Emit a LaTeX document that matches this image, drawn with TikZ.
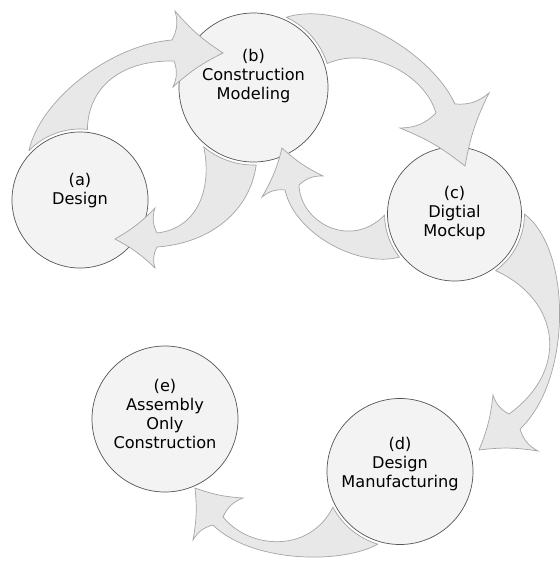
\documentclass[tikz,border=0pt]{standalone}
\usepackage{fontspec}
\setmainfont{DejaVu Sans}
\usepackage{tikz}
\usetikzlibrary{calc}
\definecolor{stagefill}{RGB}{243,243,243}
\definecolor{stageline}{RGB}{85,85,85}
\definecolor{flowfill}{RGB}{232,232,232}
\definecolor{flowline}{RGB}{165,165,165}
\newcommand{\stagetext}[2]{\raisebox{#1}[0pt][0pt]{\begin{tabular}{@{}c@{}}#2\end{tabular}}}

\begin{document}
\begin{tikzpicture}[
    x=0.03cm, y=0.03cm,
    stage/.style={circle, draw=stageline, fill=stagefill, line width=0.6pt,
                  inner sep=0pt, outer sep=0.09cm,
                  font=\fontsize{13.8}{16.2}\selectfont},
    flow/.style={draw=flowline, fill=flowfill, line width=0.6pt},
    hookside/.style={bend right=22},
    headside/.style={bend right=8}
  ]
    \useasboundingbox (0,0) rectangle (559,-563);
    \node[stage, minimum size=4.08cm] (a) at (80,-200)     {\stagetext{4pt}{(a)\\Design}};
    \node[stage, minimum size=4.47cm] (b) at (253.5,-87.5) {\stagetext{5.5pt}{(b)\\Construction\\Modeling}};
    \node[stage, minimum size=4.02cm] (c) at (454.5,-214)  {\stagetext{-3.2pt}{(c)\\Digtial\\Mockup}};
    \node[stage, minimum size=4.38cm] (d) at (400,-471.5)  {\stagetext{2.5pt}{(d)\\Design\\Manufacturing}};
    \node[stage, minimum size=4.38cm] (e) at (165,-419)    {\stagetext{-1.5pt}{(e)\\Assembly\\Only\\Construction}};

    \draw[flow] (a.136) .. controls (40,-100) and (110,-45) .. (172,-40)
      to[hookside] (175,-11) to[headside] (223,-53) to[headside] (173,-87)
      to[hookside] (174,-61) .. controls (120,-60) and (88,-88) .. (a.84)
      arc[start angle=84, end angle=136, radius=71] -- cycle;
    \draw[flow] (b.272) .. controls (250,-210) and (212,-243) .. (157,-247)
      to[hookside] (155,-268) to[headside] (115,-239) to[headside] (155,-208)
      to[hookside] (157,-233) .. controls (200,-228) and (212,-185) .. (b.230)
      arc[start angle=230, end angle=272, radius=77.5] -- cycle;
    \draw[flow] (b.65) .. controls (340,0) and (430,-50) .. (455,-104)
      to[hookside] (489,-93) to[headside] (465,-166) to[headside] (400,-128)
      to[hookside] (436,-113) .. controls (425,-75) and (370,-45) .. (b.18)
      arc[start angle=18, end angle=65, radius=77.5] -- cycle;
    \draw[flow] (c.218) .. controls (360,-268) and (295,-235) .. (285,-190)
      to[hookside] (262,-197) to[headside] (282,-148) to[headside] (323,-176)
      to[hookside] (299,-185) .. controls (300,-222) and (350,-250) .. (c.181)
      arc[start angle=181, end angle=218, radius=70] -- cycle;
    \draw[flow] (c.0) .. controls (572,-250) and (572,-380) .. (520,-429)
      to[hookside] (538,-451) to[headside] (479,-450) to[headside] (493,-395)
      to[hookside] (509,-414) .. controls (570,-370) and (560,-300) .. (c.306)
      arc[start angle=306, end angle=360, radius=70] -- cycle;
    \draw[flow] (d.253) .. controls (340,-565) and (250,-562) .. (213,-525)
      to[hookside] (193,-540) to[headside] (195,-488) to[headside] (243,-498)
      to[hookside] (223,-517) .. controls (250,-550) and (310,-553) .. (d.208)
      arc[start angle=208, end angle=253, radius=76] -- cycle;
  \end{tikzpicture}
\end{document}
